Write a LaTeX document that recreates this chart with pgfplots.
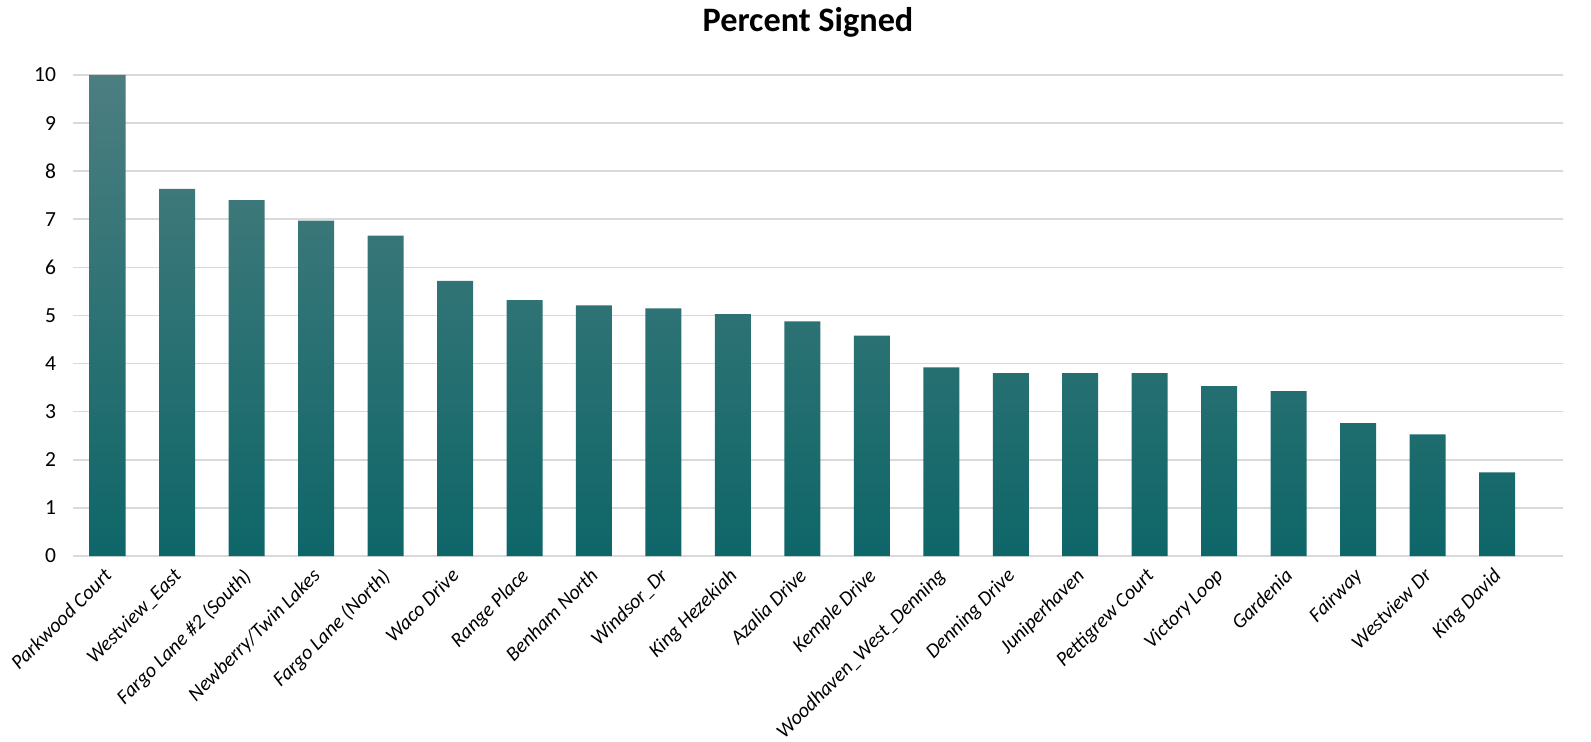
\documentclass[border=0pt]{standalone}
\usepackage{fontspec}
\setmainfont{Carlito}
\usepackage{pgfplots}
\pgfplotsset{compat=1.18}
\definecolor{gridgray}{RGB}{217,217,217}
\definecolor{bartop}{RGB}{76,126,128}
\definecolor{barmid}{RGB}{22,110,112}
\definecolor{barbot}{RGB}{14,102,104}
\begin{document}
\begin{tikzpicture}
\useasboundingbox (0,0) rectangle (795.5bp,371bp);
\begin{axis}[
  at={(36.5bp,93bp)}, anchor=south west,
  scale only axis,
  width=745bp, height=240.5bp,
  xmin=-0.5, xmax=20.95,
  ymin=0, ymax=10,
  ytick={0,1,...,10},
  xtick={0,1,...,20},
  xticklabels={Parkwood Court, Westview\_East, Fargo Lane \#2 (South), Newberry/Twin Lakes, Fargo Lane (North), Waco Drive, Range Place, Benham North, Windsor\_Dr, King Hezekiah, Azalia Drive, Kemple Drive, Woodhaven\_West\_Denning, Denning Drive, Juniperhaven, Pettigrew Court, Victory Loop, Gardenia, Fairway, Westview Dr, King David},
  axis line style={draw=none},
  major tick length=0pt,
  tick style={draw=none},
  ymajorgrids,
  major grid style={draw=gridgray, line width=0.8bp},
  /pgf/number format/assume math mode=true,
  yticklabel style={font=\fontsize{10.8}{13}\selectfont, anchor=east, xshift=-5bp},
  xticklabel style={font=\fontsize{10.2}{12}\selectfont\itshape, rotate=45, anchor=north east, inner sep=0.5bp, yshift=-1.5bp, xshift=-5bp},
  clip=false,
]
\addplot[ybar, bar width=18bp, draw=none, top color=bartop, middle color=barmid, bottom color=barbot] coordinates {
(0,10) (1,7.63) (2,7.40) (3,6.97) (4,6.66) (5,5.72) (6,5.32) (7,5.21) (8,5.15) (9,5.03) (10,4.88) (11,4.58) (12,3.92) (13,3.80) (14,3.80) (15,3.80) (16,3.53) (17,3.43) (18,2.76) (19,2.53) (20,1.74)
};
\end{axis}
\node[anchor=base, font=\fontsize{17.2}{20}\selectfont\bfseries] at (404bp,355bp) {Percent Signed};
\end{tikzpicture}
\end{document}
